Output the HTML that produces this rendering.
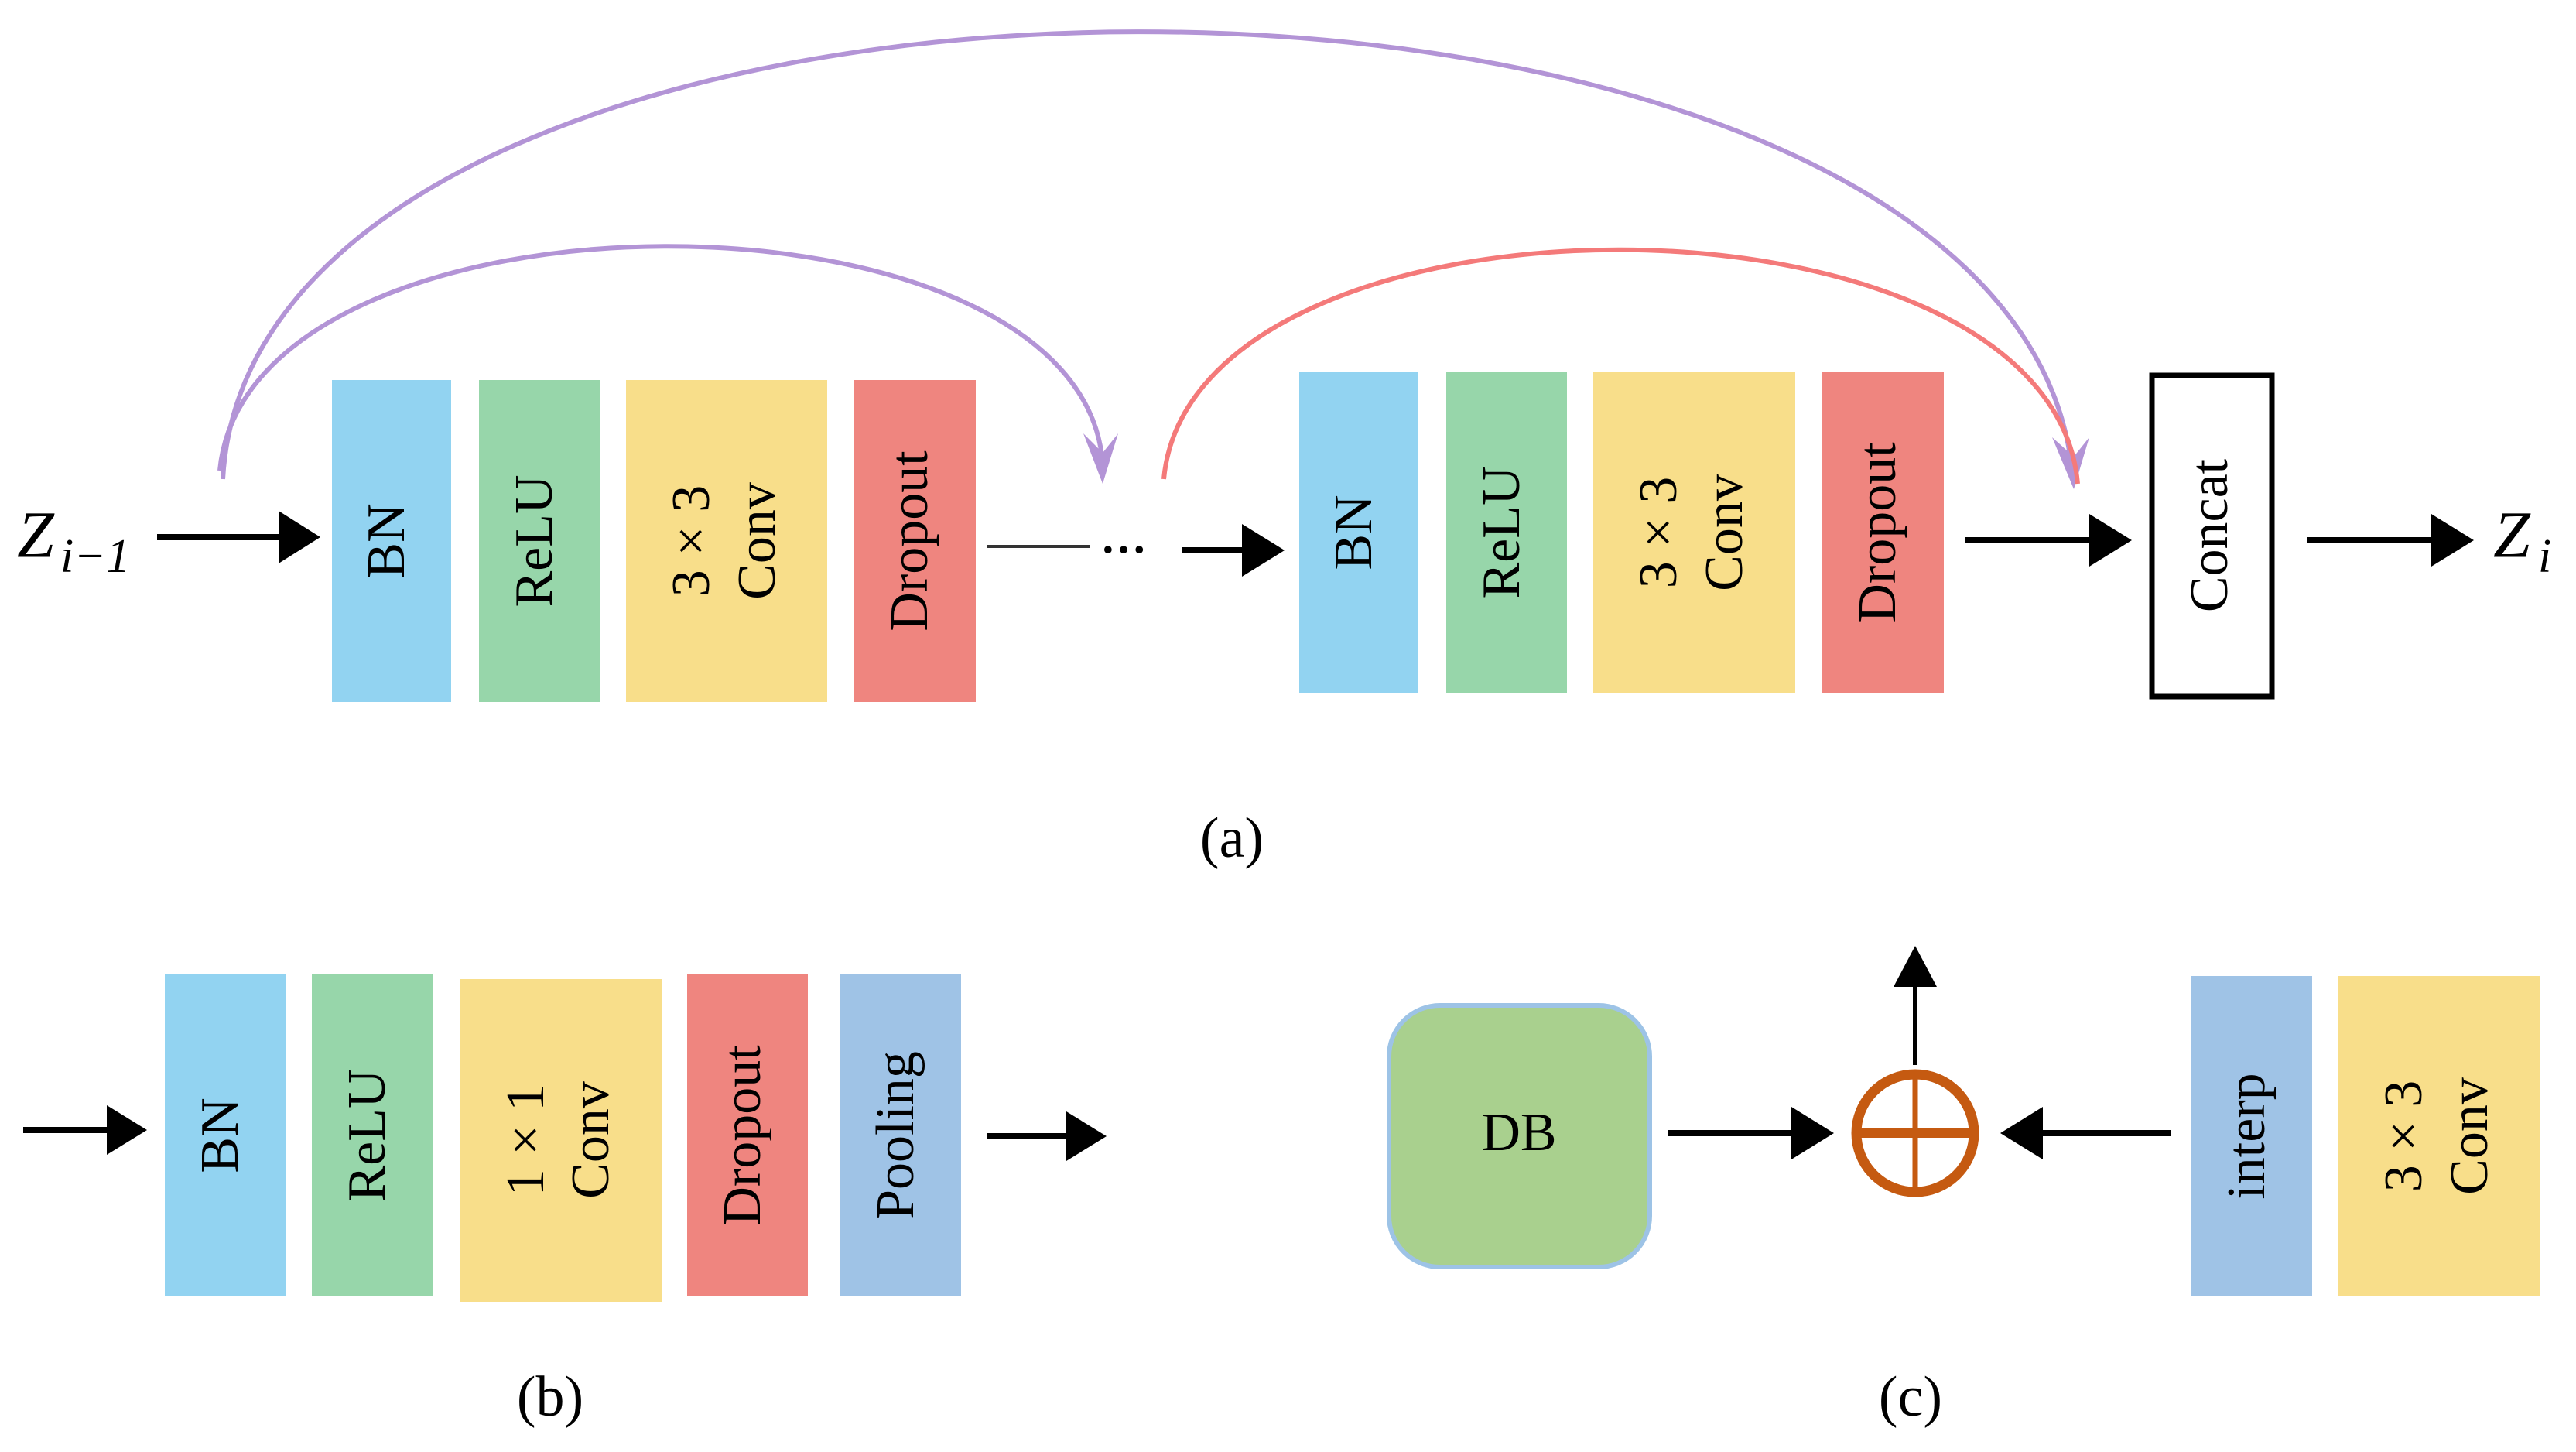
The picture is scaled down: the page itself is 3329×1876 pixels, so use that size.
<!DOCTYPE html>
<html><head><meta charset="utf-8"><style>
html,body{margin:0;padding:0;background:#fff;}
svg{display:block;}
text{font-family:"Liberation Serif",serif;fill:#000;}
</style></head><body>
<svg width="3329" height="1876" viewBox="0 0 3329 1876" xmlns="http://www.w3.org/2000/svg">
<g font-size="70" text-anchor="middle" dominant-baseline="middle">
<!-- row a -->
<text x="22" y="700" font-size="86" font-style="italic" text-anchor="start">Z</text>
<text x="78" y="725" font-size="62" font-style="italic" text-anchor="start">i−1</text>
<line x1="203" y1="694" x2="375" y2="694" stroke="#000" stroke-width="8"/>
<path d="M360,660 L414,694 L360,728 Z"/>
<rect x="429" y="491" width="154" height="416" fill="#92d3f1"/>
<text transform="translate(506,699) rotate(-90)">BN</text>
<rect x="619" y="491" width="156" height="416" fill="#97d6aa"/>
<text transform="translate(697,699) rotate(-90)">ReLU</text>
<rect x="809" y="491" width="260" height="416" fill="#f8de8a"/>
<text transform="translate(900,699) rotate(-90)">3 × 3</text>
<text transform="translate(985,699) rotate(-90)">Conv</text>
<rect x="1103" y="491" width="158" height="416" fill="#ef857f"/>
<text transform="translate(1182,699) rotate(-90)">Dropout</text>
<line x1="1276" y1="706" x2="1408" y2="706" stroke="#333" stroke-width="4"/>
<text x="1452" y="700" font-size="60" font-weight="bold">…</text>
<line x1="1528" y1="711" x2="1615" y2="711" stroke="#000" stroke-width="8"/>
<path d="M1605,677 L1660,711 L1605,745 Z"/>
<rect x="1679" y="480" width="154" height="416" fill="#92d3f1"/>
<text transform="translate(1756,688) rotate(-90)">BN</text>
<rect x="1869" y="480" width="156" height="416" fill="#97d6aa"/>
<text transform="translate(1947,688) rotate(-90)">ReLU</text>
<rect x="2059" y="480" width="261" height="416" fill="#f8de8a"/>
<text transform="translate(2150,688) rotate(-90)">3 × 3</text>
<text transform="translate(2235,688) rotate(-90)">Conv</text>
<rect x="2354" y="480" width="158" height="416" fill="#ef857f"/>
<text transform="translate(2433,688) rotate(-90)">Dropout</text>
<line x1="2539" y1="698" x2="2710" y2="698" stroke="#000" stroke-width="8"/>
<path d="M2700,664 L2755,698 L2700,732 Z"/>
<rect x="2781" y="485" width="155" height="415" fill="#fff" stroke="#000" stroke-width="7"/>
<text transform="translate(2862,692) rotate(-90)">Concat</text>
<line x1="2981" y1="698" x2="3150" y2="698" stroke="#000" stroke-width="8"/>
<path d="M3142,664 L3197,698 L3142,732 Z"/>
<text x="3222" y="700" font-size="86" font-style="italic" text-anchor="start">Z</text>
<text x="3280" y="725" font-size="62" font-style="italic" text-anchor="start">i</text>
<!-- arcs -->
<path d="M288,619 C330,-150 2600,-150 2678,610" fill="none" stroke="#b394d6" stroke-width="6"/>
<path d="M2652,565 L2680,632 L2700,565 L2680,590 Z" fill="#b394d6"/>
<path d="M284,608 C320,223 1400,223 1425,600" fill="none" stroke="#b394d6" stroke-width="6"/>
<path d="M1400,560 L1425,625 L1445,560 L1425,585 Z" fill="#b394d6"/>
<path d="M1504,619 C1540,223 2650,223 2685,625" fill="none" stroke="#f47a7a" stroke-width="6"/>
<text x="1592" y="1090" font-size="74">(a)</text>
<!-- row b -->
<line x1="30" y1="1460" x2="150" y2="1460" stroke="#000" stroke-width="8"/>
<path d="M138,1428 L190,1460 L138,1492 Z"/>
<rect x="213" y="1259" width="156" height="416" fill="#92d3f1"/>
<text transform="translate(291,1467) rotate(-90)">BN</text>
<rect x="403" y="1259" width="156" height="416" fill="#97d6aa"/>
<text transform="translate(481,1467) rotate(-90)">ReLU</text>
<rect x="595" y="1265" width="261" height="417" fill="#f8de8a"/>
<text transform="translate(686,1473) rotate(-90)">1 × 1</text>
<text transform="translate(770,1473) rotate(-90)">Conv</text>
<rect x="888" y="1259" width="156" height="416" fill="#ef857f"/>
<text transform="translate(966,1467) rotate(-90)">Dropout</text>
<rect x="1086" y="1259" width="156" height="416" fill="#9fc3e6"/>
<text transform="translate(1164,1467) rotate(-90)">Pooling</text>
<line x1="1276" y1="1468" x2="1390" y2="1468" stroke="#000" stroke-width="8"/>
<path d="M1378,1436 L1430,1468 L1378,1500 Z"/>
<text x="711" y="1812" font-size="74">(b)</text>
<!-- row c -->
<rect x="1795" y="1299" width="337" height="338" rx="66" fill="#a9d08e" stroke="#9dc3e6" stroke-width="6"/>
<text x="1963" y="1470">DB</text>
<line x1="2155" y1="1464" x2="2320" y2="1464" stroke="#000" stroke-width="8"/>
<path d="M2315,1430 L2370,1464 L2315,1498 Z"/>
<circle cx="2475" cy="1464" r="76" fill="none" stroke="#c55a11" stroke-width="13"/>
<line x1="2399" y1="1464" x2="2551" y2="1464" stroke="#c55a11" stroke-width="12"/>
<line x1="2475" y1="1388" x2="2475" y2="1540" stroke="#c55a11" stroke-width="7"/>
<line x1="2475" y1="1376" x2="2475" y2="1270" stroke="#000" stroke-width="6"/>
<path d="M2447,1275 L2475,1222 L2503,1275 Z"/>
<line x1="2806" y1="1464" x2="2630" y2="1464" stroke="#000" stroke-width="8"/>
<path d="M2640,1430 L2585,1464 L2640,1498 Z"/>
<rect x="2832" y="1261" width="156" height="414" fill="#9fc3e6"/>
<text transform="translate(2910,1468) rotate(-90)">interp</text>
<rect x="3022" y="1261" width="260" height="414" fill="#f8de8a"/>
<text transform="translate(3113,1468) rotate(-90)">3 × 3</text>
<text transform="translate(3198,1468) rotate(-90)">Conv</text>
<text x="2469" y="1812" font-size="74">(c)</text>
</g>
</svg>
</body></html>
